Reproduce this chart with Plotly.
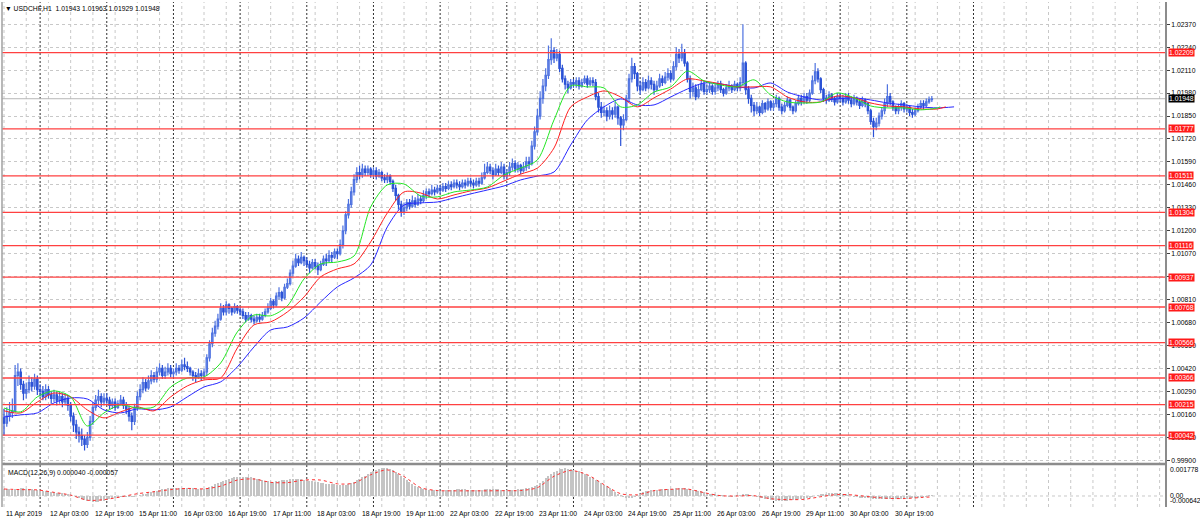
import plotly.graph_objects as go

# ---------------- data (prices in points: price = 1 + pts * 1e-5) ----------------
OPEN_PTS = [
    140, 110, 150, 170, 180, 380, 400, 330, 280, 300, 340, 320, 360,
    300, 290, 260, 300, 270, 250, 270, 240, 260, 230, 250, 210, 150, 100, 60, 40, 20, -10, 30, 120, 200, 240, 260, 230,
    250, 240, 210, 230, 200, 220, 240, 210, 190, 150, 120, 200, 260, 300, 340, 310, 350, 380, 360, 400, 420, 380, 400, 420,
    390, 400, 420, 410, 440, 430, 420, 400, 380, 370, 390, 380, 400, 480, 560, 620, 660, 700, 760, 740, 780, 760, 740, 770,
    750, 740, 720, 700, 720, 700, 690, 710, 700, 720, 740, 760, 800, 780, 830, 850, 820, 880, 900, 960, 1000, 1040, 1020, 1050,
    1030, 1010, 990, 1020, 1000, 980, 1010, 1040, 1030, 1060, 1050, 1080, 1070, 1120, 1200, 1290, 1350, 1420, 1490, 1530, 1520, 1550, 1530, 1550,
    1520, 1540, 1510, 1530, 1500, 1490, 1510, 1480, 1440, 1400, 1350, 1310, 1330, 1360, 1340, 1370, 1350, 1380, 1370, 1400, 1420, 1410, 1430, 1420,
    1440, 1430, 1450, 1440, 1460, 1450, 1470, 1460, 1450, 1470, 1460, 1480, 1470, 1460, 1480, 1470, 1500, 1530, 1560, 1540, 1520, 1550, 1530, 1560,
    1510, 1530, 1560, 1580, 1550, 1570, 1540, 1560, 1590, 1580, 1680, 1760, 1850, 1950, 2020, 2080, 2170, 2220, 2180, 2200, 2120, 2060, 2030, 2010,
    2040, 2030, 2050, 2020, 2040, 2060, 2030, 2050, 2040, 1960, 1900, 1870, 1880, 1850, 1880, 1860, 1900, 1840, 1800, 1830, 1950, 2060, 2130, 2090,
    2020, 2000, 2040, 2010, 2050, 2030, 2000, 2020, 2060, 2040, 2070, 2090, 2060, 2130, 2200, 2180, 2210, 2150, 2060, 1990, 2010, 1960, 2000, 2030,
    1990, 2000, 2020, 1990, 2010, 2030, 2000, 1980, 2010, 2020, 2000, 2030, 2010, 2040, 2150, 2000, 1950, 1910, 1880, 1900, 1870, 1920, 1890, 1930,
    1900, 1920, 1950, 1900, 1880, 1910, 1940, 1900, 1880, 1920, 1950, 1930, 1960, 1940, 1980, 2050, 2100, 2060, 2000, 1950, 1940, 1970, 1950, 1930,
    1960, 1950, 1930, 1960, 1940, 1920, 1950, 1930, 1910, 1940, 1920, 1880, 1820, 1790, 1810, 1850, 1880, 1920, 1960, 1930, 1900, 1880, 1900, 1920,
    1890, 1900, 1870, 1860, 1880, 1900, 1920, 1910, 1930, 1943,
]
HIGH_PTS = [
    190, 200, 230, 250, 440, 450, 420, 350, 340, 380, 370, 390, 380,
    330, 320, 330, 320, 290, 300, 290, 290, 280, 280, 270, 230, 170, 130, 90, 80, 40, 60, 150, 230, 270, 300, 280, 280,
    280, 260, 250, 250, 240, 270, 260, 230, 210, 170, 220, 290, 330, 370, 360, 380, 410, 400, 430, 450, 440, 430, 450, 440,
    420, 450, 440, 470, 480, 460, 430, 410, 400, 420, 410, 420, 500, 580, 650, 690, 730, 790, 780, 800, 790, 770, 790, 780,
    770, 760, 740, 740, 730, 720, 730, 730, 740, 760, 790, 820, 810, 850, 880, 860, 900, 930, 980, 1030, 1070, 1060, 1080, 1060,
    1050, 1030, 1040, 1040, 1020, 1030, 1060, 1070, 1090, 1080, 1100, 1100, 1150, 1230, 1310, 1380, 1450, 1520, 1560, 1570, 1580, 1570, 1570, 1560,
    1560, 1560, 1550, 1540, 1520, 1530, 1520, 1490, 1460, 1410, 1370, 1360, 1380, 1380, 1400, 1390, 1410, 1400, 1430, 1440, 1440, 1460, 1450, 1460,
    1460, 1470, 1470, 1480, 1480, 1490, 1490, 1480, 1490, 1490, 1500, 1500, 1490, 1500, 1500, 1530, 1580, 1590, 1580, 1560, 1580, 1570, 1590, 1580,
    1550, 1590, 1610, 1600, 1590, 1580, 1590, 1620, 1620, 1710, 1790, 1890, 1990, 2060, 2120, 2250, 2290, 2240, 2230, 2220, 2140, 2080, 2050, 2060,
    2060, 2070, 2070, 2060, 2080, 2080, 2070, 2070, 2060, 1980, 1930, 1910, 1900, 1910, 1900, 1930, 1910, 1850, 1860, 1970, 2090, 2180, 2150, 2100,
    2050, 2070, 2060, 2080, 2070, 2050, 2050, 2090, 2080, 2100, 2120, 2110, 2160, 2240, 2230, 2260, 2230, 2160, 2080, 2040, 2030, 2030, 2050, 2050,
    2030, 2040, 2030, 2030, 2050, 2050, 2010, 2030, 2050, 2030, 2050, 2040, 2070, 2370, 2160, 2020, 1970, 1930, 1930, 1910, 1940, 1930, 1950, 1940,
    1940, 1970, 1960, 1920, 1930, 1960, 1950, 1910, 1940, 1970, 1970, 1980, 1980, 2000, 2080, 2150, 2120, 2070, 2010, 1970, 1990, 1980, 1960, 1980,
    1980, 1970, 1980, 1980, 1960, 1970, 1960, 1940, 1960, 1950, 1930, 1890, 1840, 1840, 1870, 1900, 1950, 2030, 1980, 1940, 1910, 1920, 1940, 1930,
    1920, 1910, 1890, 1900, 1920, 1940, 1940, 1950, 1960, 1963,
]
LOW_PTS = [
    40, 90, 120, 140, 170, 320, 300, 240, 250, 280, 290, 300, 270,
    260, 240, 240, 250, 220, 230, 210, 220, 200, 210, 180, 120, 60, 20, 0, -20, -45, -30, 10, 100, 180, 210, 200, 210,
    220, 190, 190, 180, 190, 210, 190, 160, 120, 70, 100, 180, 240, 280, 290, 300, 330, 340, 340, 380, 360, 360, 380, 370,
    370, 380, 390, 400, 410, 400, 380, 350, 340, 360, 350, 360, 380, 460, 540, 600, 640, 690, 720, 720, 730, 720, 730, 730,
    720, 700, 680, 690, 680, 670, 680, 680, 690, 710, 730, 750, 760, 770, 810, 800, 810, 870, 890, 940, 990, 1000, 1010, 1000,
    990, 960, 980, 980, 950, 970, 1000, 1000, 1020, 1020, 1040, 1040, 1060, 1100, 1180, 1270, 1330, 1400, 1470, 1490, 1500, 1510, 1510, 1500,
    1500, 1490, 1500, 1480, 1470, 1470, 1460, 1420, 1370, 1320, 1280, 1290, 1310, 1320, 1330, 1330, 1340, 1350, 1360, 1380, 1390, 1400, 1400, 1410,
    1410, 1420, 1420, 1430, 1430, 1440, 1440, 1430, 1440, 1440, 1450, 1450, 1440, 1450, 1450, 1460, 1490, 1520, 1520, 1490, 1510, 1510, 1520, 1490,
    1490, 1510, 1540, 1530, 1530, 1520, 1530, 1540, 1550, 1570, 1660, 1740, 1830, 1920, 1990, 2060, 2140, 2150, 2160, 2100, 2040, 2000, 1980, 2000,
    2010, 2010, 2000, 2010, 2030, 2010, 2020, 2020, 1940, 1870, 1840, 1850, 1820, 1830, 1830, 1840, 1800, 1680, 1770, 1820, 1930, 2040, 2060, 1990,
    1970, 1990, 1990, 2000, 2000, 1970, 1990, 2010, 2020, 2030, 2050, 2040, 2050, 2110, 2150, 2160, 2130, 2040, 1950, 1960, 1940, 1950, 1990, 1970,
    1970, 1980, 1970, 1970, 1990, 1980, 1960, 1970, 1990, 1980, 1990, 1990, 1990, 2020, 1970, 1920, 1870, 1850, 1860, 1850, 1860, 1870, 1880, 1880,
    1880, 1900, 1880, 1860, 1870, 1900, 1880, 1860, 1870, 1910, 1910, 1920, 1920, 1930, 1970, 2030, 2040, 1980, 1930, 1920, 1930, 1930, 1910, 1920,
    1930, 1910, 1920, 1920, 1900, 1910, 1910, 1890, 1900, 1900, 1860, 1800, 1730, 1770, 1790, 1830, 1860, 1900, 1910, 1880, 1860, 1860, 1880, 1870,
    1870, 1850, 1840, 1850, 1870, 1890, 1890, 1900, 1920, 1929,
]
CLOSE_PTS = [
    110, 150, 170, 180, 380, 400, 330, 280, 300, 340, 320, 360, 300,
    290, 260, 300, 270, 250, 270, 240, 260, 230, 250, 210, 150, 100, 60, 40, 20, -10, 30, 120, 200, 240, 260, 230, 250,
    240, 210, 230, 200, 220, 240, 210, 190, 150, 120, 200, 260, 300, 340, 310, 350, 380, 360, 400, 420, 380, 400, 420, 390,
    400, 420, 410, 440, 430, 420, 400, 380, 370, 390, 380, 400, 480, 560, 620, 660, 700, 760, 740, 780, 760, 740, 770, 750,
    740, 720, 700, 720, 700, 690, 710, 700, 720, 740, 760, 800, 780, 830, 850, 820, 880, 900, 960, 1000, 1040, 1020, 1050, 1030,
    1010, 990, 1020, 1000, 980, 1010, 1040, 1030, 1060, 1050, 1080, 1070, 1120, 1200, 1290, 1350, 1420, 1490, 1530, 1520, 1550, 1530, 1550, 1520,
    1540, 1510, 1530, 1500, 1490, 1510, 1480, 1440, 1400, 1350, 1310, 1330, 1360, 1340, 1370, 1350, 1380, 1370, 1400, 1420, 1410, 1430, 1420, 1440,
    1430, 1450, 1440, 1460, 1450, 1470, 1460, 1450, 1470, 1460, 1480, 1470, 1460, 1480, 1470, 1500, 1530, 1560, 1540, 1520, 1550, 1530, 1560, 1510,
    1530, 1560, 1580, 1550, 1570, 1540, 1560, 1590, 1580, 1680, 1760, 1850, 1950, 2020, 2080, 2170, 2220, 2180, 2200, 2120, 2060, 2030, 2010, 2040,
    2030, 2050, 2020, 2040, 2060, 2030, 2050, 2040, 1960, 1900, 1870, 1880, 1850, 1880, 1860, 1900, 1840, 1800, 1830, 1950, 2060, 2130, 2090, 2020,
    2000, 2040, 2010, 2050, 2030, 2000, 2020, 2060, 2040, 2070, 2090, 2060, 2130, 2200, 2180, 2210, 2150, 2060, 1990, 2010, 1960, 2000, 2030, 1990,
    2000, 2020, 1990, 2010, 2030, 2000, 1980, 2010, 2020, 2000, 2030, 2010, 2040, 2150, 2000, 1950, 1910, 1880, 1900, 1870, 1920, 1890, 1930, 1900,
    1920, 1950, 1900, 1880, 1910, 1940, 1900, 1880, 1920, 1950, 1930, 1960, 1940, 1980, 2050, 2100, 2060, 2000, 1950, 1940, 1970, 1950, 1930, 1960,
    1950, 1930, 1960, 1940, 1920, 1950, 1930, 1910, 1940, 1920, 1880, 1820, 1790, 1810, 1850, 1880, 1920, 1960, 1930, 1900, 1880, 1900, 1920, 1890,
    1900, 1870, 1860, 1880, 1900, 1920, 1910, 1930, 1943, 1948,
]

# Alligator lines (sampled every 6 bars, shifted forward as in the terminal)
LIPS_BARS = list(range(0, 337, 6)) + [337]
LIPS = [1.00196, 1.00174, 1.00259, 1.00293, 1.00259, 1.00094, 1.00168, 1.00213, 1.00196, 1.00202,
        1.00315, 1.00366, 1.00372, 1.00451, 1.00627, 1.00723, 1.00718, 1.00774, 1.00927, 1.01012,
        1.01023, 1.01057, 1.01335, 1.01460, 1.01465, 1.01397, 1.01392, 1.01420, 1.01431, 1.01448,
        1.01516, 1.01555, 1.01601, 1.01828, 1.02020, 1.02015, 1.02009, 1.01902, 1.01913, 1.01986,
        1.02015, 1.02105, 1.02049, 1.02026, 1.02015, 1.02055, 1.01969, 1.01930, 1.01924, 1.01930,
        1.01981, 1.01953, 1.01907, 1.01896, 1.01896, 1.01885, 1.01896, 1.01902]
TEETH_BARS = list(range(0, 337, 6)) + [339]
TEETH = [1.00180, 1.00168, 1.00230, 1.00281, 1.00259, 1.00185, 1.00140, 1.00174, 1.00202, 1.00180,
         1.00259, 1.00321, 1.00355, 1.00366, 1.00536, 1.00667, 1.00684, 1.00740, 1.00825, 1.00939,
         1.00984, 1.01012, 1.01137, 1.01301, 1.01420, 1.01414, 1.01380, 1.01403, 1.01426, 1.01443,
         1.01482, 1.01521, 1.01555, 1.01669, 1.01902, 1.01958, 1.01992, 1.01958, 1.01902, 1.01953,
         1.02003, 1.02060, 1.02049, 1.02032, 1.02015, 1.02015, 1.02015, 1.01958, 1.01930, 1.01930,
         1.01964, 1.01953, 1.01924, 1.01907, 1.01902, 1.01890, 1.01890, 1.01902]
JAW_BARS = list(range(0, 337, 6)) + [342]
JAW = [1.00145, 1.00157, 1.00168, 1.00225, 1.00253, 1.00247, 1.00185, 1.00168, 1.00191, 1.00185,
       1.00202, 1.00259, 1.00315, 1.00344, 1.00429, 1.00542, 1.00638, 1.00655, 1.00706, 1.00797,
       1.00882, 1.00933, 1.01006, 1.01222, 1.01346, 1.01358, 1.01363, 1.01386, 1.01409, 1.01431,
       1.01454, 1.01488, 1.01510, 1.01533, 1.01686, 1.01828, 1.01902, 1.01947, 1.01913, 1.01913,
       1.01958, 1.02003, 1.02037, 1.02032, 1.02015, 1.02009, 1.02037, 1.01986, 1.01958, 1.01941,
       1.01947, 1.01953, 1.01941, 1.01924, 1.01913, 1.01902, 1.01896, 1.01902]

# MACD(12,26,9) main (histogram) per bar, in units of 1e-5
MACD_E5 = [
    45, 44, 43, 42, 44, 48, 50, 50, 48, 46, 44, 42, 40, 38,
    35, 32, 30, 27, 25, 22, 20, 17, 14,
    10, 5, 0, -6, -12, -18, -24, -30, -35,
    -38, -40, -38, -35,
    -30, -25, -20, -15, -10, -8, -6, -4, -2, -3, -5, -3,
    0, 5, 10, 15, 20, 25, 30, 35, 40,
    45, 48, 50, 52, 54, 55, 55, 54, 53, 52, 50, 50, 48, 47, 46, 46,
    50, 58, 67, 76, 85, 93, 100, 106, 112, 118, 122, 125, 127, 128,
    127, 125, 122, 118, 114, 110, 106, 102, 98, 95,
    95, 97, 100, 103, 106, 108, 110, 112, 112, 111, 110, 108,
    105, 102, 98, 95, 92, 88, 85, 82, 80, 78, 76, 74, 72, 72, 74, 78,
    85, 95, 105, 115, 125, 135, 145, 155, 165, 172, 178, 182, 184, 183,
    178, 170, 160, 148, 135, 120, 105, 92,
    80, 68, 58, 50,
    46, 44, 42, 40, 38, 37, 36, 36, 37, 38, 40, 42, 43, 44, 44, 43, 42, 41, 40, 40,
    41, 42, 43, 44, 45, 45, 44, 43, 42, 41, 40, 40, 41, 42, 44, 46, 48, 50, 53, 58,
    65, 75, 88, 102, 118, 132, 145, 158, 168, 175,
    180, 182, 181, 178, 174, 168,
    162, 155, 147, 138, 128, 118, 108, 97, 86, 75, 63, 50, 38, 26,
    14, 4, -6, -12, -15, -12,
    -5, 5, 15, 25, 32, 36, 38, 40, 41, 42, 43, 44, 45, 46,
    48, 50, 52, 52, 51, 49, 46, 42, 38, 34,
    30, 25, 20, 15, 12, 9, 6, 4, 2, 0, -1, -2, 0, 3, 5,
    10, 12, 10, 5, 0, -5, -10, -14, -18, -22, -25, -28, -30, -32, -32, -31, -30, -28,
    -26, -24, -22, -20, -18, -15, -10, -5, 0, 5, 10, 14, 16,
    17, 18, 18, 17, 15, 12, 8, 4, 0, -3, -6, -8, -10,
    -12, -14, -16, -18, -20, -21, -22, -22, -20, -18, -20, -22, -23, -22, -20, -18,
    -15, -12, -10, -8, -5, -3, -1, 2, 4,
]
SIGNAL_BARS = list(range(0, 331, 6)) + [334]
SIGNAL_E5 = [46, 42, 40, 24, 6, -28, -24, -6, 15, 28, 42, 50, 47, 65, 105, 112, 90, 88, 105, 105,
             80, 85, 140, 172, 128, 55, 36, 34, 34, 34, 35, 36, 55, 130, 168, 140, 75, 15, 8, 35,
             44, 46, 22, 2, 0, 2, -18, -24, -22, -5, 10, 6, -6, -15, -17, -10, -6]

LEVELS = [1.02209, 1.01777, 1.01511, 1.01304, 1.01116, 1.00937, 1.00768, 1.00566, 1.00366, 1.00215, 1.00042]
CURRENT = 1.01948
PRICE_TICKS = [0.99900, 1.00030, 1.00160, 1.00290, 1.00420, 1.00550, 1.00680, 1.00810, 1.00940, 1.01070,
               1.01200, 1.01330, 1.01460, 1.01590, 1.01720, 1.01850, 1.01980, 1.02110, 1.02240, 1.02370]
HIDDEN_TICKS = [1.00940]   # fully covered by a level label in the terminal
TIME_LABELS = ["11 Apr 2019", "12 Apr 03:00", "12 Apr 19:00", "15 Apr 11:00", "16 Apr 03:00", "16 Apr 19:00",
               "17 Apr 11:00", "18 Apr 03:00", "18 Apr 19:00", "19 Apr 11:00", "22 Apr 03:00", "22 Apr 19:00",
               "23 Apr 11:00", "24 Apr 03:00", "24 Apr 19:00", "25 Apr 11:00", "26 Apr 03:00", "26 Apr 19:00",
               "29 Apr 11:00", "30 Apr 03:00", "30 Apr 19:00"]
LABEL_STEP = 16          # bars between time labels
DAY_STARTS = [13, 37, 61, 85, 109, 133, 157, 181, 205, 229, 253, 277, 301, 325, 349]
TITLE = "USDCHF,H1  1.01943 1.01963 1.01929 1.01948"
MACD_TITLE = "MACD(12,26,9) 0.000040 -0.000057"
MACD_SCALE = [(0.001778, "0.001778"), (0.0, "0.00"), (-0.000642, "-0.000642")]

# ---------------- build ----------------
def px(v):
    return 1.0 + v * 1e-5

n = len(CLOSE_PTS)
bars = list(range(n))
FONT = "Liberation Sans, Arial, sans-serif"
FS = 6.8

fig = go.Figure()

fig.add_trace(go.Candlestick(
    x=bars, open=[px(v) for v in OPEN_PTS], high=[px(v) for v in HIGH_PTS],
    low=[px(v) for v in LOW_PTS], close=[px(v) for v in CLOSE_PTS],
    increasing=dict(line=dict(color="#4e72e0", width=1.2), fillcolor="#9cb1ef"),
    decreasing=dict(line=dict(color="#2b52d6", width=1.2), fillcolor="#2b52d6"),
    whiskerwidth=0, xaxis="x", yaxis="y", showlegend=False, hoverinfo="skip"))

for xs, ys, col in [(JAW_BARS, JAW, "#2828ff"), (TEETH_BARS, TEETH, "#ff2020"), (LIPS_BARS, LIPS, "#22e622")]:
    fig.add_trace(go.Scatter(x=xs, y=ys, mode="lines", line=dict(color=col, width=1, shape="spline", smoothing=0.8),
                             xaxis="x", yaxis="y", showlegend=False, hoverinfo="skip"))

fig.add_trace(go.Bar(x=bars, y=[v * 1e-5 for v in MACD_E5], width=0.42,
                     marker=dict(color="#c4c4c4", line=dict(width=0)),
                     xaxis="x2", yaxis="y2", showlegend=False, hoverinfo="skip"))
fig.add_trace(go.Scatter(x=SIGNAL_BARS, y=[v * 1e-5 for v in SIGNAL_E5], mode="lines",
                         line=dict(color="#ff3030", width=1, dash="dot", shape="spline", smoothing=0.8),
                         xaxis="x2", yaxis="y2", showlegend=False, hoverinfo="skip"))

XR = [-0.72, 418.3]
MAIN_DOM = [0.0891, 1.0]
MACD_DOM = [0.0, 0.0812]

shapes = []
# vertical grid (gray dashed)
for i in range(0, 420, LABEL_STEP // 2):
    shapes.append(dict(type="line", xref="x", yref="paper", x0=i, x1=i, y0=0, y1=1,
                       line=dict(color="#c8c8c8", width=1, dash="3px,3px"), layer="below"))
# day separators
for d in DAY_STARTS:
    shapes.append(dict(type="line", xref="x", yref="paper", x0=d, x1=d, y0=0, y1=1,
                       line=dict(color="#303030", width=1, dash="2px,2px"), layer="below"))
# macd zero grid
shapes.append(dict(type="line", xref="paper", yref="y2", x0=0, x1=1, y0=0, y1=0,
                   line=dict(color="#c8c8c8", width=1, dash="3px,3px"), layer="below"))
# current price line
shapes.append(dict(type="line", xref="paper", yref="y", x0=0, x1=1, y0=CURRENT, y1=CURRENT,
                   line=dict(color="#b8b8b8", width=1), layer="below"))
# red levels
for lv in LEVELS:
    shapes.append(dict(type="line", xref="paper", yref="y", x0=0, x1=1, y0=lv, y1=lv,
                       line=dict(color="#ff4040", width=1.3)))
# frames
shapes.append(dict(type="line", xref="paper", yref="paper", x0=1, x1=1, y0=0, y1=1,
                   line=dict(color="#8c8c8c", width=2)))
shapes.append(dict(type="line", xref="paper", yref="paper", x0=0, x1=1, y0=0.0851, y1=0.0851,
                   line=dict(color="#8c8c8c", width=2.5)))
shapes.append(dict(type="line", xref="paper", yref="paper", x0=0, x1=0, y0=0, y1=1,
                   line=dict(color="#a0a0a0", width=1.5)))

ann = []
for lv in LEVELS:
    ann.append(dict(xref="paper", yref="y", x=1, y=lv, xanchor="left", yanchor="middle", xshift=2,
                    text=f"{lv:.5f}", showarrow=False, bgcolor="#ff1a1a", borderpad=0,
                    font=dict(family=FONT, size=FS, color="white")))
ann.append(dict(xref="paper", yref="y", x=1, y=CURRENT, xanchor="left", yanchor="middle", xshift=2,
                text=f"{CURRENT:.5f}", showarrow=False, bgcolor="#000000", borderpad=0,
                font=dict(family=FONT, size=FS, color="white")))
for val, txt in MACD_SCALE:
    ya = "bottom" if val < 0 else "middle"
    ann.append(dict(xref="paper", yref="y2", x=1, y=val, xanchor="left", yanchor=ya, xshift=2,
                    text=txt, showarrow=False, font=dict(family=FONT, size=FS, color="black")))
for k, lab in enumerate(TIME_LABELS):
    ann.append(dict(xref="x", yref="paper", x=k * LABEL_STEP, y=0, xanchor="left", yanchor="top", yshift=-1,
                    text=lab, showarrow=False, font=dict(family=FONT, size=FS, color="black")))
ann.append(dict(xref="paper", yref="paper", x=0, y=1, xanchor="left", yanchor="top", xshift=1, yshift=-1,
                text="▼ " + TITLE, showarrow=False, font=dict(family=FONT, size=FS, color="black")))
ann.append(dict(xref="paper", yref="paper", x=0, y=MACD_DOM[1], xanchor="left", yanchor="top", xshift=4, yshift=-1,
                text=MACD_TITLE, showarrow=False, font=dict(family=FONT, size=FS, color="black")))

tick_text = ["" if t in HIDDEN_TICKS else f"{t:.5f}" for t in PRICE_TICKS]

fig.update_layout(
    width=1200, height=523, margin=dict(l=2, r=34, t=2, b=16),
    paper_bgcolor="white", plot_bgcolor="white", bargap=0,
    xaxis=dict(domain=[0, 1], range=XR, showgrid=False, zeroline=False, showticklabels=False,
               rangeslider=dict(visible=False), anchor="y", fixedrange=True),
    xaxis2=dict(domain=[0, 1], range=XR, showgrid=False, zeroline=False, showticklabels=False,
                anchor="y2", matches="x"),
    yaxis=dict(domain=MAIN_DOM, range=[0.99890, 1.02496], side="right", tickvals=PRICE_TICKS,
               ticktext=tick_text, ticks="outside", ticklen=3, tickcolor="#404040",
               showgrid=True, gridcolor="#c8c8c8", griddash="3px,3px", gridwidth=1, zeroline=False,
               tickfont=dict(family=FONT, size=FS, color="black"), automargin=False),
    yaxis2=dict(domain=MACD_DOM, range=[-0.000725, 0.001977], side="right", showticklabels=False,
                showgrid=False, zeroline=False, automargin=False),
    shapes=shapes, annotations=ann,
)

fig.write_html("out.html", config={"displayModeBar": False},
               post_script="document.body.style.margin='0px';document.body.style.overflow='hidden';")
